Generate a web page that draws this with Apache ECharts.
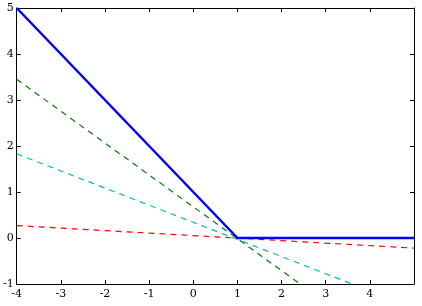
<!DOCTYPE html>
<html>
<head>
<meta charset="utf-8">
<script src="https://cdn.jsdelivr.net/npm/echarts@6/dist/echarts.min.js"></script>
<style>
	html, body { margin: 0; padding: 0; background: #fff; }
	#chart { width: 422px; height: 306px; }
</style>
</head>
<body>
<div id="chart"></div>
<script>
	// x ticks shown on the bottom axis (5 has no label)
	var xTicks = [-4, -3, -2, -1, 0, 1, 2, 3, 4];
	var yTicks = [-1, 0, 1, 2, 3, 4, 5];

	// hinge loss (solid blue)
	var hingeX = [-4, 1, 5];
	var hingeY = [5, 0, 0];
	// dashed lines, endpoints
	var greenX = [-4, 2.42];
	var greenY = [3.45, -1];
	var cyanX = [-4, 3.6];
	var cyanY = [1.83, -1];
	var redX = [-4, 5];
	var redY = [0.27, -0.22];

	function pairs(xs, ys) {
		var out = [];
		for(var i = 0; i < xs.length; i++) {
			out.push([xs[i], ys[i]]);
		}
		return out;
	}

	function dashed(name, color, xs, ys) {
		return {
			name: name,
			type: 'line',
			symbol: 'none',
			xAxisIndex: 0,
			yAxisIndex: 0,
			lineStyle: { color: color, width: 1.2, type: [6, 5] },
			data: pairs(xs, ys),
			z: 2
		};
	}

	var font = 'DejaVu Serif';
	var axisBase = {
		type: 'value',
		splitLine: { show: false },
		axisLine: { show: true, onZero: false, lineStyle: { color: '#000', width: 1 } },
		axisTick: { show: true, inside: true, length: 4, lineStyle: { color: '#000' } }
	};

	var chart = echarts.init(document.getElementById('chart'));
	chart.setOption({
		animation: false,
		grid: { left: 14, right: 8, top: 8, bottom: 22 },
		xAxis: [
			Object.assign({}, axisBase, {
				min: -4, max: 5, interval: 1,
				axisLabel: {
					color: '#000', fontFamily: font, fontSize: 11, margin: 5,
					formatter: function(v) { return xTicks.indexOf(v) >= 0 ? String(v) : ''; }
				}
			}),
			Object.assign({}, axisBase, {
				position: 'top', min: -4, max: 5, interval: 1,
				axisLabel: { show: false }
			})
		],
		yAxis: [
			Object.assign({}, axisBase, {
				min: -1, max: 5, interval: 1,
				axisLabel: {
					color: '#000', fontFamily: font, fontSize: 11, margin: 3,
					formatter: function(v) { return yTicks.indexOf(v) >= 0 ? String(v) : ''; }
				}
			}),
			Object.assign({}, axisBase, {
				position: 'right', min: -1, max: 5, interval: 1,
				axisLabel: { show: false }
			})
		],
		series: [
			dashed('green', '#008000', greenX, greenY),
			dashed('cyan', '#00bfbf', cyanX, cyanY),
			dashed('red', '#ff0000', redX, redY),
			{
				name: 'hinge',
				type: 'line',
				symbol: 'none',
				lineStyle: { color: '#0000ff', width: 2.5 },
				data: pairs(hingeX, hingeY),
				z: 3
			}
		]
	});
</script>
</body>
</html>
